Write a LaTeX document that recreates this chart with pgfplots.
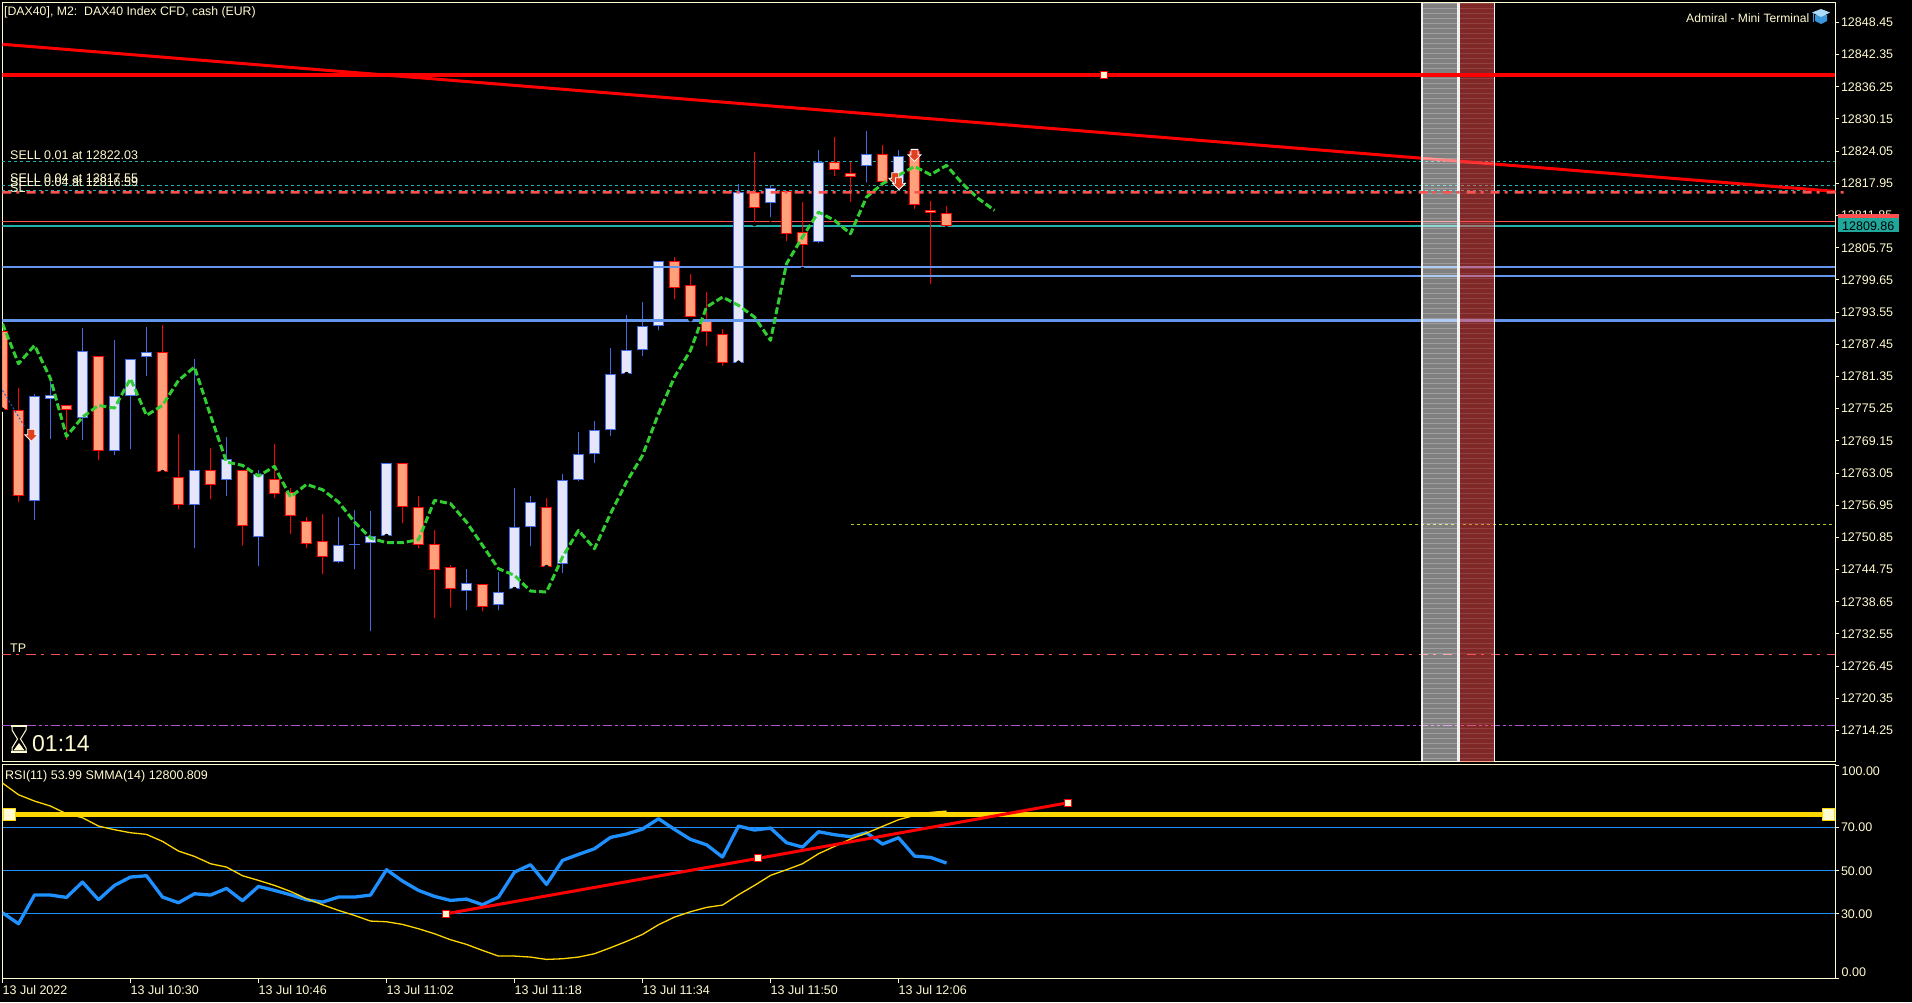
\documentclass[border=0pt]{standalone}
\usepackage{pgfplots}
\usepackage{pgfplotstable}
\usepackage{fontspec}
\setmainfont{Liberation Sans}
\pgfplotsset{compat=1.18}
\definecolor{cream}{HTML}{FFFBD0}
\definecolor{bearfill}{HTML}{FFA07A}
\definecolor{bearline}{HTML}{FF0000}
\definecolor{bullfill}{HTML}{E6E6FA}
\definecolor{bullline}{HTML}{4169E1}
\definecolor{levelblue}{HTML}{6495ED}
\definecolor{smagreen}{HTML}{32CD32}
\definecolor{tealline}{HTML}{20B2AA}
\definecolor{softred}{HTML}{FF5050}
\definecolor{rsiblue}{HTML}{1E90FF}
\definecolor{gold}{HTML}{FFD700}
\definecolor{arrowred}{HTML}{E04020}
\pgfdeclareplotmark{sellarrow}{%
  \pgfpathmoveto{\pgfqpoint{-3.5pt}{6pt}}
  \pgfpathlineto{\pgfqpoint{3.5pt}{6pt}}
  \pgfpathlineto{\pgfqpoint{3.5pt}{0.5pt}}
  \pgfpathlineto{\pgfqpoint{6.5pt}{0.5pt}}
  \pgfpathlineto{\pgfqpoint{0pt}{-6pt}}
  \pgfpathlineto{\pgfqpoint{-6.5pt}{0.5pt}}
  \pgfpathlineto{\pgfqpoint{-3.5pt}{0.5pt}}
  \pgfpathclose
  \pgfusepathqfillstroke}
\pgfdeclareplotmark{dashdot}{%
  \pgfpathrectangle{\pgfqpoint{0pt}{-1.2pt}}{\pgfqpoint{9pt}{2.4pt}}
  \pgfpathrectangle{\pgfqpoint{14pt}{-1.2pt}}{\pgfqpoint{3pt}{2.4pt}}
  \pgfusepathqfill}
\pgfplotstableread{
i open high low close
2 12757.74 12778.08 12753.70 12777.70
3 12777.07 12780.29 12769.05 12777.89
5 12773.47 12790.46 12768.86 12786.23
7 12767.22 12788.19 12766.02 12777.70
8 12777.64 12784.72 12767.15 12784.72
9 12785.03 12790.65 12780.99 12786.04
12 12756.98 12784.59 12748.39 12763.68
14 12761.72 12769.81 12758.25 12765.76
16 12750.92 12763.55 12744.98 12762.80
21 12746.18 12754.65 12745.55 12749.47
22 12749.40 12755.97 12744.41 12749.66
23 12749.78 12755.78 12732.66 12751.17
24 12751.11 12765.01 12751.11 12765.01
29 12740.69 12744.79 12736.64 12742.27
31 12738.03 12744.22 12736.64 12740.56
32 12741.07 12760.27 12741.07 12752.88
33 12752.82 12758.75 12748.77 12757.62
35 12745.80 12762.80 12743.66 12761.79
36 12761.72 12770.76 12761.09 12766.71
37 12766.65 12772.84 12764.50 12771.26
38 12771.20 12786.80 12769.68 12781.87
39 12781.81 12792.93 12781.81 12786.42
40 12786.36 12795.39 12784.78 12790.97
41 12790.97 12803.29 12789.70 12803.29
46 12783.96 12817.88 12783.96 12816.36
48 12814.21 12817.56 12811.12 12817.12
51 12806.82 12824.19 12806.19 12822.05
54 12821.23 12827.80 12817.69 12823.56
56 12818.19 12824.19 12816.11 12823.18
}\bull
\pgfplotstableread{
i open high low close
0 12789.96 12789.96 12775.05 12775.05
1 12775.05 12779.22 12757.11 12758.69
4 12776.00 12776.00 12768.86 12774.99
6 12785.28 12785.28 12765.07 12767.22
10 12786.04 12791.03 12763.24 12763.24
11 12762.35 12770.38 12755.78 12756.98
13 12763.68 12767.72 12757.68 12760.77
15 12763.68 12763.68 12748.90 12753.00
17 12761.97 12768.48 12757.87 12759.07
18 12759.51 12760.14 12751.05 12754.90
19 12754.01 12754.65 12748.39 12749.59
20 12750.22 12755.21 12743.46 12747.13
25 12765.01 12765.01 12753.13 12756.60
26 12756.67 12758.75 12748.39 12749.40
27 12749.66 12752.18 12735.13 12744.67
28 12745.30 12745.68 12737.15 12741.06
30 12742.08 12742.08 12736.45 12737.65
34 12756.67 12758.25 12745.23 12745.23
42 12803.29 12803.92 12795.58 12798.17
43 12798.74 12800.70 12792.17 12792.61
44 12792.29 12797.28 12786.67 12789.83
45 12789.45 12790.40 12782.94 12783.96
47 12816.30 12823.82 12810.23 12813.27
49 12816.55 12816.55 12806.57 12808.34
50 12808.78 12814.34 12801.71 12806.25
52 12822.05 12826.66 12818.89 12820.47
53 12819.96 12822.05 12813.96 12819.14
55 12823.56 12825.14 12816.93 12818.19
57 12824.07 12824.07 12812.70 12813.83
58 12812.95 12814.53 12798.48 12812.32
59 12812.38 12813.58 12809.41 12809.86
}\bear
\pgfplotstableread{
i v
0 12791.35
1 12783.77
2 12787.24
3 12780.93
4 12770.00
5 12773.66
6 12775.87
7 12775.37
8 12780.93
9 12773.98
10 12775.87
11 12780.61
12 12783.14
13 12773.98
14 12765.13
15 12764.50
16 12762.48
17 12764.31
18 12758.50
19 12760.90
20 12759.89
21 12757.55
22 12753.76
23 12750.73
24 12749.85
25 12749.85
26 12750.41
27 12757.87
28 12757.24
29 12753.76
30 12749.34
31 12744.92
32 12743.66
33 12740.69
34 12740.50
35 12747.13
36 12752.18
37 12748.71
38 12755.34
39 12761.34
40 12766.40
41 12774.29
42 12781.24
43 12786.29
44 12794.50
45 12796.40
46 12794.82
47 12792.61
48 12788.19
49 12802.72
50 12807.77
51 12812.51
52 12810.93
53 12808.40
54 12815.35
55 12817.88
56 12819.46
57 12821.16
58 12819.58
59 12821.35
60 12817.88
61 12815.04
62 12812.82
}\smma
\pgfplotstableread{
i rsi sm
0 30.45 90.76
1 25.33 85.33
2 38.66 82.39
3 38.66 80.06
4 37.58 76.49
5 44.71 74.63
6 36.49 70.76
7 43.16 69.05
8 47.04 67.66
9 47.66 66.88
10 37.73 63.63
11 35.10 59.13
12 39.28 56.65
13 38.66 53.24
14 41.76 51.69
15 36.03 47.66
16 42.69 45.49
17 40.83 43.16
18 38.82 40.37
19 36.49 36.96
20 35.41 34.17
21 37.73 31.53
22 37.73 29.21
23 38.66 26.57
24 50.45 26.26
25 45.18 25.02
26 40.83 23.00
27 38.04 20.68
28 36.18 17.89
29 36.80 15.72
30 34.17 12.93
31 37.73 10.29
32 49.36 10.29
33 52.77 9.83
34 43.63 8.74
35 54.79 9.05
36 57.58 9.83
37 60.21 11.38
38 65.49 14.17
39 67.04 17.11
40 69.36 20.37
41 74.17 24.87
42 69.21 28.43
43 64.56 30.91
44 62.07 32.93
45 56.34 34.01
46 70.76 38.82
47 68.90 43.16
48 69.83 47.81
49 63.01 50.45
50 60.99 53.24
51 68.12 57.89
52 66.73 61.30
53 65.80 64.71
54 67.66 67.50
55 62.38 70.60
56 65.33 73.70
57 56.80 75.72
58 56.18 77.11
59 53.55 77.73
}\rsi
\pgfplotsset{
  chartframe/.style={
    scale only axis,
    xmin=0, xmax=114.55,
    axis line style={color=cream,line width=1pt},
    tick style={color=cream,line width=1pt},
    major tick length=4pt,
    tick align=outside,
    xtick pos=bottom, ytick pos=right,
    yticklabel pos=right,
    scaled ticks=false,
    tick label style={font=\fontsize{12.5}{14}\selectfont,text=cream},
    yticklabel style={anchor=west,inner xsep=1.5pt},
  },
  wick/.style={only marks,mark=none,forget plot,
    error bars/.cd,y dir=plus,y explicit,error mark=none,
    error bar style={color=#1,line width=1pt,line cap=butt,solid}},
}
% one closed box per row of a candle table: table, outline, fill, top column, bottom column
\newcommand\candlebodies[5]{%
  \pgfplotstablegetrowsof{#1}\pgfmathtruncatemacro\lastrow{\pgfplotsretval-1}%
  \pgfplotsinvokeforeach{0,...,\lastrow}{%
    \pgfplotstablegetelem{##1}{i}\of{#1}\let\cx\pgfplotsretval
    \pgfplotstablegetelem{##1}{#4}\of{#1}\let\ct\pgfplotsretval
    \pgfplotstablegetelem{##1}{#5}\of{#1}\let\cb\pgfplotsretval
    \pgfmathsetmacro\xl{\cx-0.3125}\pgfmathsetmacro\xr{\cx+0.3125}%
    \pgfmathsetmacro\yt{\ct-0.095}\pgfmathsetmacro\yb{\cb+0.095}%
    \edef\tmp{\noexpand\addplot[draw=#2,fill=#3,line width=1pt,forget plot] coordinates {(\xl,\yb)(\xr,\yb)(\xr,\yt)(\xl,\yt)} -- cycle;}\tmp
  }%
}
\begin{document}
\begin{tikzpicture}[x=1pt,y=1pt]
\fill[black] (0,0) rectangle (1912pt,1002pt);
\path[use as bounding box] (0,0) rectangle (1912pt,1002pt);

% ---- price panel
\begin{axis}[chartframe,
  at={(2.5pt,240.1pt)},anchor=south west,width=1832.8pt,height=759pt,
  ymin=12708.31,ymax=12852.145,
  xtick=\empty,
  ytick={12714.25,12720.35,12726.45,12732.55,12738.65,12744.75,12750.85,12756.95,12763.05,12769.15,12775.25,12781.35,12787.45,12793.55,12799.65,12805.75,12811.85,12817.95,12824.05,12830.15,12836.25,12842.35,12848.45},
  yticklabels={12714.25,12720.35,12726.45,12732.55,12738.65,12744.75,12750.85,12756.95,12763.05,12769.15,12775.25,12781.35,12787.45,12793.55,12799.65,12805.75,12811.85,12817.95,12824.05,12830.15,12836.25,12842.35,12848.45},
]
% thin order lines, behind the candles
\addplot[tealline,line width=1pt,dash pattern=on 3pt off 3pt,forget plot] coordinates {(0,12822.03)(114.55,12822.03)};
\addplot[tealline,line width=1pt,dash pattern=on 3pt off 3pt,forget plot] coordinates {(0,12817.55)(114.55,12817.55)};
\addplot[tealline,line width=1pt,dash pattern=on 3pt off 3pt,forget plot] coordinates {(0,12816.59)(114.55,12816.59)};
\addplot[only marks,mark=dashdot,mark options={fill=softred,draw=none,solid},forget plot] coordinates {(0,12816.23)(1.5,12816.23)(3,12816.23)(4.5,12816.23)(6,12816.23)(7.5,12816.23)(9,12816.23)(10.5,12816.23)(12,12816.23)(13.5,12816.23)(15,12816.23)(16.5,12816.23)(18,12816.23)(19.5,12816.23)(21,12816.23)(22.5,12816.23)(24,12816.23)(25.5,12816.23)(27,12816.23)(28.5,12816.23)(30,12816.23)(31.5,12816.23)(33,12816.23)(34.5,12816.23)(36,12816.23)(37.5,12816.23)(39,12816.23)(40.5,12816.23)(42,12816.23)(43.5,12816.23)(45,12816.23)(46.5,12816.23)(48,12816.23)(49.5,12816.23)(51,12816.23)(52.5,12816.23)(54,12816.23)(55.5,12816.23)(57,12816.23)(58.5,12816.23)(60,12816.23)(61.5,12816.23)(63,12816.23)(64.5,12816.23)(66,12816.23)(67.5,12816.23)(69,12816.23)(70.5,12816.23)(72,12816.23)(73.5,12816.23)(75,12816.23)(76.5,12816.23)(78,12816.23)(79.5,12816.23)(81,12816.23)(82.5,12816.23)(84,12816.23)(85.5,12816.23)(87,12816.23)(88.5,12816.23)(90,12816.23)(91.5,12816.23)(93,12816.23)(94.5,12816.23)(96,12816.23)(97.5,12816.23)(99,12816.23)(100.5,12816.23)(102,12816.23)(103.5,12816.23)(105,12816.23)(106.5,12816.23)(108,12816.23)(109.5,12816.23)(111,12816.23)(112.5,12816.23)(114,12816.23)};
\addplot[softred,line width=1pt,forget plot] coordinates {(0,12810.68)(114.55,12810.68)};
\addplot[color=tealline,draw=tealline,line width=1.2pt,forget plot] coordinates {(0,12809.86)(114.55,12809.86)};
\addplot[softred,line width=1pt,dash pattern=on 9pt off 5pt on 3pt off 7pt,forget plot] coordinates {(0,12728.63)(114.55,12728.63)};
\addplot[color={rgb,255:red,176;green,80;blue,208},line width=1pt,dash pattern=on 9pt off 3pt on 3pt off 3pt on 3pt off 3pt,forget plot] coordinates {(0,12715.17)(114.55,12715.17)};
\addplot[color={rgb,255:red,176;green,208;blue,32},line width=1pt,dash pattern=on 3pt off 3pt,forget plot] coordinates {(53,12753.26)(114.55,12753.26)};
% candles: wicks, then boxes
\addplot[wick=bullline] table[x=i,y=low,y error expr={\thisrow{high}-\thisrow{low}}] {\bull};
\addplot[wick=bearline] table[x=i,y=low,y error expr={\thisrow{high}-\thisrow{low}}] {\bear};
\candlebodies{\bull}{bullline}{bullfill}{close}{open}
\candlebodies{\bear}{bearline}{bearfill}{open}{close}
% blue levels and trend line
\addplot[levelblue,line width=2pt,forget plot] coordinates {(0,12802.08)(114.55,12802.08)};
\addplot[levelblue,line width=2pt,forget plot] coordinates {(53,12800.38)(114.55,12800.38)};
\addplot[levelblue,line width=3pt,forget plot] coordinates {(0,12791.92)(114.55,12791.92)};
\addplot[red,line width=3pt,forget plot] coordinates {(0,12844.3)(114.55,12816.42)};
\addplot[color={rgb,255:red,20;green,90;blue,200},line width=1pt,dash pattern=on 2pt off 2pt,forget plot] coordinates {(0,12778.71)(1.4,12771.77)};
% SMMA on the price
\addplot[smagreen,line width=3pt,dash pattern=on 7pt off 3pt,line join=round,forget plot] table[x=i,y=v] {\smma};
% sell arrows
\addplot[only marks,mark=sellarrow,mark options={draw=white,fill=arrowred,line width=0.8pt,solid},forget plot] coordinates {(1.8,12770.2)(55.8,12818.83)(56.03,12817.88)(57.0,12823.25)};
% time bands
\addplot[fill=white,fill opacity=0.94,draw=none,forget plot] coordinates {(88.66,12708.31)(88.78,12708.31)(88.78,12852.1)(88.66,12852.1)} -- cycle;
\addplot[fill=white,fill opacity=0.5,draw=none,forget plot] coordinates {(88.78,12708.31)(90.91,12708.31)(90.91,12852.1)(88.78,12852.1)} -- cycle;
\addplot[fill=white,fill opacity=0.94,draw=none,forget plot] coordinates {(90.91,12708.31)(91.09,12708.31)(91.09,12852.1)(90.91,12852.1)} -- cycle;
\addplot[fill=softred,fill opacity=0.5,draw=none,forget plot] coordinates {(91.09,12708.31)(93.22,12708.31)(93.22,12852.1)(91.09,12852.1)} -- cycle;
\addplot[fill=white,fill opacity=0.94,draw=none,forget plot] coordinates {(93.22,12708.31)(93.28,12708.31)(93.28,12852.1)(93.22,12852.1)} -- cycle;
\addplot[white,draw opacity=0.25,line width=34pt,dash pattern=on 1pt off 4pt,forget plot] coordinates {(89.84,12852.1)(89.84,12708.31)};
\addplot[white,draw opacity=0.12,line width=34pt,dash pattern=on 1pt off 4pt,forget plot] coordinates {(92.16,12852.1)(92.16,12708.31)};
% horizontal trend line over the bands
\addplot[red,line width=3.4pt,forget plot] coordinates {(0,12838.5)(114.55,12838.5)};
\addplot[only marks,mark=square*,mark size=3.5pt,mark options={fill=cream,draw=red,line width=1pt},forget plot] coordinates {(68.84,12838.5)};
\end{axis}

% ---- RSI panel
\begin{axis}[chartframe,
  at={(2.5pt,23.3pt)},anchor=south west,width=1832.8pt,height=214.3pt,
  ymin=-0.23,ymax=99.44,
  xtick={0,8,16,24,32,40,48,56},
  xticklabels={13 Jul 2022,13 Jul 10:30,13 Jul 10:46,13 Jul 11:02,13 Jul 11:18,13 Jul 11:34,13 Jul 11:50,13 Jul 12:06},
  xticklabel style={anchor=north west,inner xsep=0pt,inner ysep=3pt},
  ytick={0,30,50,70,99.1},
  yticklabels={,30.00,50.00,70.00,},
]
\addplot[rsiblue,line width=1pt,forget plot] coordinates {(0,70)(114.55,70)};
\addplot[rsiblue,line width=1pt,forget plot] coordinates {(0,50)(114.55,50)};
\addplot[rsiblue,line width=1pt,forget plot] coordinates {(0,30)(114.55,30)};
\addplot[rsiblue,line width=3.3pt,line join=round,forget plot] table[x=i,y=rsi] {\rsi};
\addplot[gold,line width=1.3pt,line join=round,forget plot] table[x=i,y=sm] {\rsi};
\addplot[gold,line width=5pt,forget plot] coordinates {(0.42,76)(114.1,76)};
\addplot[only marks,mark=square*,mark size=6pt,mark options={fill=cream,draw=gold,line width=1.2pt},forget plot] coordinates {(0.42,76)(114.1,76)};
\addplot[red,line width=3pt,forget plot] coordinates {(27.74,30)(47.2,55.7)(66.6,81.6)};
\addplot[only marks,mark=square*,mark size=3.5pt,mark options={fill=cream,draw=red,line width=1pt},forget plot] coordinates {(27.74,30)(47.2,55.7)(66.6,81.6)};
\end{axis}

% ---- texts and chart furniture, in the reference's pixel frame
\begin{scope}[x=1pt,y=-1pt,shift={(0pt,1002pt)},every node/.style={anchor=west,inner sep=0pt,text=cream,font=\fontsize{12.5}{14}\selectfont}]
\node[font=\fontsize{12.3}{14}\selectfont] at (4,12) {[DAX40], M2:\ \ DAX40 Index CFD, cash (EUR)};
\node[font=\fontsize{12.1}{14}\selectfont] at (1686,17.7) {Admiral - Mini Terminal};
\node at (10,155.3) {SELL 0.01 at 12822.03};
\node at (10,178.2) {SELL 0.04 at 12817.55};
\node at (10,182.2) {SELL 0.04 at 12816.59};
\node at (10,187.8) {SL};
\node at (10,648.7) {TP};
\node at (5,776.3) {RSI(11) 53.99 SMMA(14) 12800.809};
\node at (1841.5,771) {100.00};
\node at (1841.5,972) {0.00};
\node[font=\fontsize{23}{26}\selectfont] at (32,743.7) {01:14};
% price tags
\fill[softred] (1838,214) rectangle (1899,218);
\fill[color={rgb,255:red,32;green,168;blue,156}] (1838,218) rectangle (1899,232);
\node[text=black] at (1842,225.8) {12809.86};
% hourglass
\draw[cream,line width=1pt,fill=black] (12,726.5) -- (26,726.5) -- (26,730) -- (20.5,739) -- (26,748) -- (26,751.5) -- (12,751.5) -- (12,748) -- (17.5,739) -- (12,730) -- cycle;
\draw[cream,line width=1.2pt] (11,726) -- (27,726) (11,752) -- (27,752);
\fill[cream] (13.5,750.5) -- (19,743) -- (24.5,750.5) -- cycle;
% graduation cap
\fill[color={rgb,255:red,60;green,150;blue,220}] (1815,15) -- (1815,21) -- (1821,24) -- (1827,21) -- (1827,15) -- cycle;
\fill[color={rgb,255:red,170;green,220;blue,250}] (1812,12.5) -- (1821,9) -- (1830,12.5) -- (1821,17) -- cycle;
\draw[color={rgb,255:red,60;green,150;blue,220},line width=1pt] (1813,13) -- (1813,22);
\end{scope}
\end{tikzpicture}
\end{document}
